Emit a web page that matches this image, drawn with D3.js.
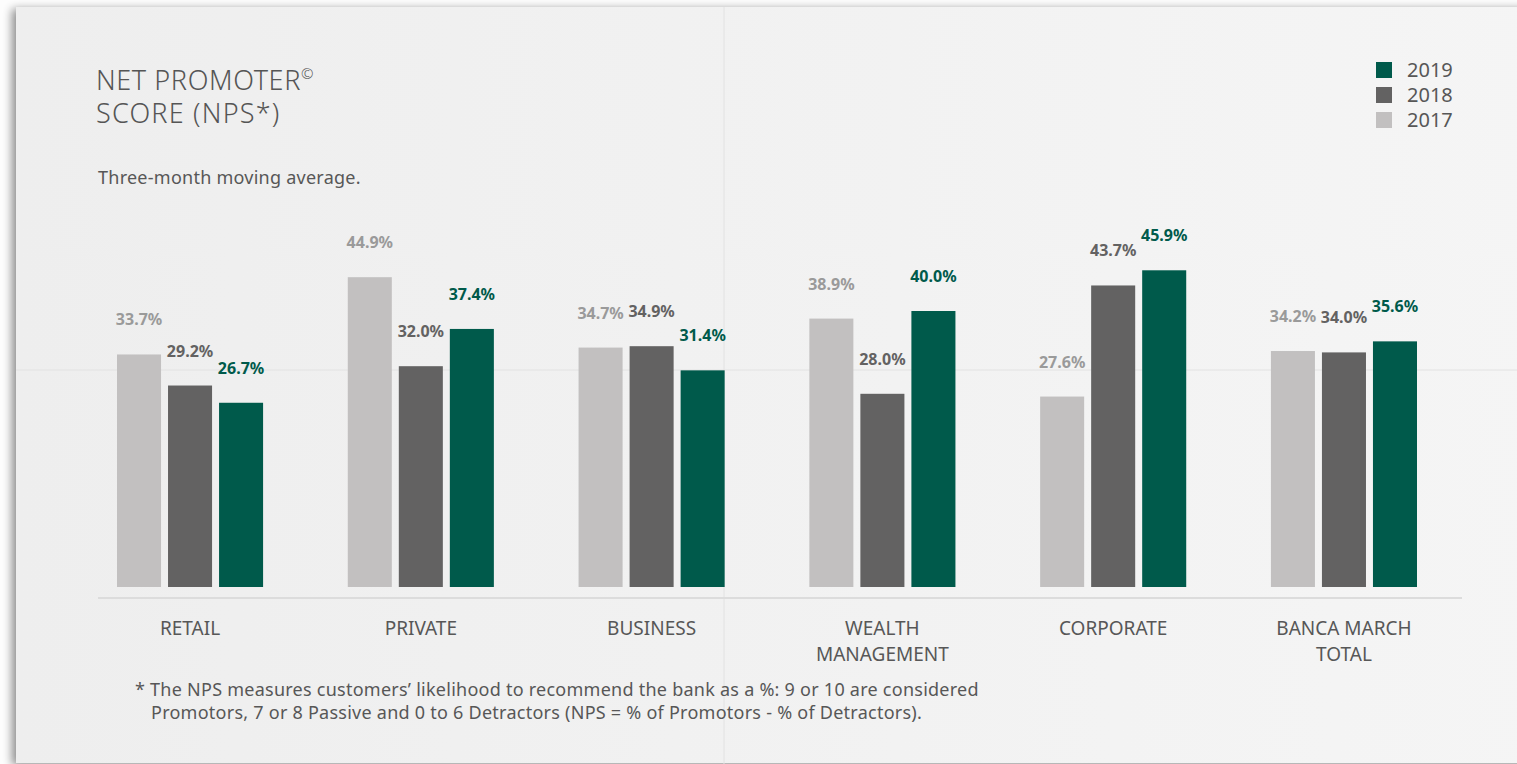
<!DOCTYPE html>
<html>
<head>
<meta charset="utf-8">
<script src="https://cdn.jsdelivr.net/npm/d3@7"></script>
<style>
  html, body { margin: 0; padding: 0; background: #fdfdfd; }
  svg { display: block; font-family: "Noto Sans", "Open Sans", sans-serif; }
  .cat { font-size: 19px; fill: #575757; }
  .val { font-size: 16px; font-weight: 700; }
  .note { font-size: 18px; fill: #575757; letter-spacing: 0.25px; }
</style>
</head>
<body>
<svg id="chart" width="1517" height="764"></svg>
<script>
const categories = [["RETAIL"], ["PRIVATE"], ["BUSINESS"], ["WEALTH", "MANAGEMENT"], ["CORPORATE"], ["BANCA MARCH", "TOTAL"]];
const years = ["2017", "2018", "2019"];
const values2017 = [33.7, 44.9, 34.7, 38.9, 27.6, 34.2];
const values2018 = [29.2, 32.0, 34.9, 28.0, 43.7, 34.0];
const values2019 = [26.7, 37.4, 31.4, 40.0, 45.9, 35.6];
const barColors = ["#c2c0c0", "#636262", "#005a4b"];
const labelColors = ["#9a9a9a", "#636262", "#005a4b"];

const series = [values2017, values2018, values2019];
const svg = d3.select("#chart");

// paper sheet
const defs = svg.append("defs");
const grad = defs.append("linearGradient").attr("id", "paper");
grad.append("stop").attr("offset", "0%").attr("stop-color", "#eeeeee");
grad.append("stop").attr("offset", "100%").attr("stop-color", "#f5f5f5");
const shadow = defs.append("filter").attr("id", "shadow")
  .attr("x", "-5%").attr("y", "-5%").attr("width", "110%").attr("height", "110%");
shadow.append("feGaussianBlur").attr("in", "SourceAlpha").attr("stdDeviation", 5);
shadow.append("feOffset").attr("dx", -4).attr("dy", 2).attr("result", "b");
shadow.append("feComponentTransfer").append("feFuncA").attr("type", "linear").attr("slope", 0.45);
const merge = shadow.append("feMerge");
merge.append("feMergeNode");
merge.append("feMergeNode").attr("in", "SourceGraphic");

svg.append("rect")
  .attr("x", 16).attr("y", 7).attr("width", 1540).attr("height", 756)
  .attr("fill", "url(#paper)").attr("filter", "url(#shadow)");

// fold lines
svg.append("line").attr("x1", 724).attr("x2", 724).attr("y1", 7).attr("y2", 764)
  .attr("stroke", "#e2e2e2").attr("stroke-width", 1);
svg.append("line").attr("x1", 16).attr("x2", 1517).attr("y1", 370).attr("y2", 370)
  .attr("stroke", "#e2e2e2").attr("stroke-width", 1);

const x0 = d3.scaleBand().domain(d3.range(categories.length)).range([117, 1417]).paddingInner(0.367);
const x1 = d3.scaleBand().domain(years).range([0, x0.bandwidth()]).paddingInner(0.137);
const y = d3.scaleLinear().domain([0, 50]).range([587, 242]);

// bars
const groups = svg.selectAll("g.grp")
  .data(categories)
  .enter()
  .append("g")
  .attr("class", "grp")
  .attr("transform", (d, i) => `translate(${x0(i)},0)`);

groups.selectAll("rect")
  .data((d, i) => years.map((yr, j) => ({ yr, j, v: series[j][i] })))
  .enter()
  .append("rect")
  .attr("x", (d) => x1(d.yr))
  .attr("y", (d) => y(d.v))
  .attr("width", x1.bandwidth())
  .attr("height", (d) => y(0) - y(d.v))
  .attr("fill", (d) => barColors[d.j]);

groups.selectAll("text.val")
  .data((d, i) => years.map((yr, j) => ({ yr, j, v: series[j][i] })))
  .enter()
  .append("text")
  .attr("class", "val")
  .attr("x", (d) => x1(d.yr) + x1.bandwidth() / 2)
  .attr("y", (d) => y(d.v) - 29)
  .attr("text-anchor", "middle")
  .attr("fill", (d) => labelColors[d.j])
  .text((d) => d.v.toFixed(1) + "%");

// baseline
svg.append("line").attr("x1", 98).attr("x2", 1462).attr("y1", 598).attr("y2", 598)
  .attr("stroke", "#dcdcdc").attr("stroke-width", 2);

// category labels
groups.append("text")
  .attr("class", "cat")
  .attr("text-anchor", "middle")
  .attr("x", x0.bandwidth() / 2)
  .attr("y", 635)
  .selectAll("tspan")
  .data((d) => d)
  .enter()
  .append("tspan")
  .attr("x", x0.bandwidth() / 2)
  .attr("dy", (d, i) => (i ? 26 : 0))
  .text((d) => d);

// title (one text, two lines)
const title = svg.append("text").attr("x", 96).attr("y", 90)
  .attr("font-size", 27).attr("font-weight", 300).attr("fill", "#555")
  .attr("letter-spacing", 0.6);
title.append("tspan").text("NET PROMOTER");
title.append("tspan").attr("font-size", 15).attr("dy", -11).text("©");
title.append("tspan").attr("x", 96).attr("dy", 44).attr("letter-spacing", 1.2).text("SCORE (NPS*)");

svg.append("text").attr("class", "note").attr("x", 98).attr("y", 184)
  .attr("font-size", 17).attr("letter-spacing", 0.5)
  .text("Three-month moving average.");

// legend
const legendYears = years.slice().reverse();
const legend = svg.selectAll("g.leg")
  .data(legendYears)
  .enter()
  .append("g")
  .attr("class", "leg")
  .attr("transform", (d, i) => `translate(1376,${62 + i * 25})`);
legend.append("rect").attr("width", 16).attr("height", 16)
  .attr("fill", (d) => barColors[years.indexOf(d)]);
legend.append("text").attr("x", 31).attr("y", 15)
  .attr("font-size", 20).attr("fill", "#575757").text((d) => d);

// footnote
svg.append("text").attr("class", "note").attr("x", 135).attr("y", 696)
  .text("* The NPS measures customers’ likelihood to recommend the bank as a %: 9 or 10 are considered");
svg.append("text").attr("class", "note").attr("x", 151).attr("y", 719)
  .text("Promotors, 7 or 8 Passive and 0 to 6 Detractors (NPS = % of Promotors - % of Detractors).");
</script>
</body>
</html>
